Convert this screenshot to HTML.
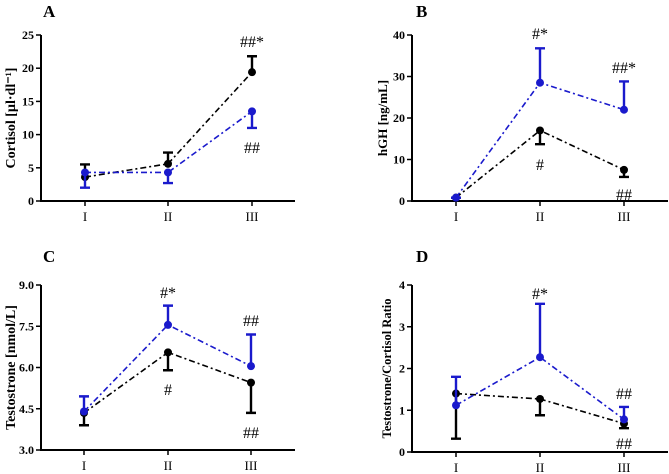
<!DOCTYPE html>
<html><head><meta charset="utf-8"><style>
body{margin:0;background:#fff;}
svg{display:block;font-family:"Liberation Serif",serif;}
</style></head><body>
<svg id="chart" width="669" height="474" viewBox="0 0 669 474" xmlns="http://www.w3.org/2000/svg"></svg>
<script>
const categories=["I","II","III"];
const aBlack=[3.6,5.6,19.4], aBlackErr=[5.5,7.3,21.8];
const aBlue=[4.3,4.3,13.5], aBlueErr=[2.0,2.7,11.0];
const bBlack=[0.8,17,7.5], bBlackErr=[0.8,13.7,5.8];
const bBlue=[0.8,28.5,22], bBlueErr=[0.8,36.8,28.8];
const cBlack=[4.35,6.55,5.45], cBlackErr=[3.9,5.9,4.35];
const cBlue=[4.4,7.55,6.05], cBlueErr=[4.95,8.25,7.2];
const dBlack=[1.4,1.27,0.68], dBlackErr=[0.32,0.88,0.57];
const dBlue=[1.12,2.27,0.78], dBlueErr=[1.8,3.55,1.08];
const aTicks=[0,5,10,15,20,25], bTicks=[0,10,20,30,40], cTicks=[3.0,4.5,6.0,7.5,9.0], dTicks=[0,1,2,3,4];

const NS="http://www.w3.org/2000/svg";
const svg=document.getElementById('chart');
function el(tag,attrs,parent,text){const e=document.createElementNS(NS,tag);for(const k in attrs)e.setAttribute(k,attrs[k]);if(text!==undefined)e.textContent=text;(parent||svg).appendChild(e);return e;}

function panel(cfg){
  const g=el('g',{});
  
  
  const ymin=cfg.ticks[0], ymax=cfg.ticks[cfg.ticks.length-1];
  const y=v=>cfg.y0+(v-ymin)/(ymax-ymin)*(cfg.y1-cfg.y0);
  const x=i=>cfg.cx[i];
  const t=el('text',{x:cfg.lx,y:cfg.ly,'font-size':17,'font-weight':'bold'},g,cfg.letter);
  
  
  const ax=el('path',{d:`M${cfg.ax},${y(ymax)} V${cfg.y0} H${cfg.axEnd}`,stroke:'#000','stroke-width':2,fill:'none'},g);
  
  
  cfg.ticks.forEach(v=>{
    el('line',{x1:cfg.ax-5,x2:cfg.ax,y1:y(v),y2:y(v),stroke:'#000','stroke-width':1.5},g);
    const tl=el('text',{x:cfg.ax-7,y:y(v)+4,'font-size':12,'font-weight':'bold','text-anchor':'end'},g,cfg.fmt(v));
    
    
  });
  categories.forEach((c,i)=>{
    el('line',{x1:x(i),x2:x(i),y1:cfg.y0,y2:cfg.y0+5,stroke:'#000','stroke-width':1.5},g);
    const xl=el('text',{x:x(i),y:cfg.y0+20,'font-size':13,'text-anchor':'middle'},g,c);
    
    
  });
  const yt=el('text',{transform:`translate(${cfg.ytx},${(cfg.y0+y(ymax))/2}) rotate(-90)`,'font-size':cfg.yfs,'font-weight':'bold','text-anchor':'middle'},g,cfg.ytitle);
  
  
  [['black',cfg.black,cfg.blackErr,'#000'],['blue',cfg.blue,cfg.blueErr,'#1a1acc']].forEach(([n,vals,errs,col])=>{
    const pts=vals.map((v,i)=>x(i)+','+y(v)).join(' ');
    const pl=el('polyline',{points:pts,fill:'none',stroke:col,'stroke-width':1.6,'stroke-dasharray':'6,3,2,3'},g);
    
    
    vals.forEach((v,i)=>{
      const e=el('path',{d:`M${x(i)},${y(v)} V${y(errs[i])} M${x(i)-5},${y(errs[i])} H${x(i)+5}`,stroke:col,'stroke-width':2.4,fill:'none'},g);
      
      
      const p=el('circle',{cx:x(i),cy:y(v),r:4,fill:col},g);
      
      
    });
  });
  cfg.ann.forEach(a=>{
    const at=el('text',{x:x(a[0]),y:a[1],'font-size':16,'text-anchor':'middle'},g,a[2]);
    
    
  });
}
panel({letter:'A',lx:43,ly:17,ax:41,axEnd:295,y0:201,y1:35,cx:[85,168,252],ticks:aTicks,fmt:v=>String(v),ytx:15,yfs:14,ytitle:'Cortisol  [µl·dl⁻¹]',
  black:aBlack,blackErr:aBlackErr,blue:aBlue,blueErr:aBlueErr,ann:[[2,47,'##*'],[2,153,'##']]});
panel({letter:'B',lx:416,ly:17,ax:412,axEnd:668,y0:201,y1:35,cx:[456,540,624],ticks:bTicks,fmt:v=>String(v),ytx:387,yfs:13,ytitle:'hGH [ng/mL]',
  black:bBlack,blackErr:bBlackErr,blue:bBlue,blueErr:bBlueErr,ann:[[1,39,'#*'],[2,73,'##*'],[1,170,'#'],[2,200,'##']]});
panel({letter:'C',lx:43,ly:262,ax:41,axEnd:295,y0:450,y1:285,cx:[84,168,251],ticks:cTicks,fmt:v=>v.toFixed(1),ytx:15,yfs:14,ytitle:'Testostrone [nmol/L]',
  black:cBlack,blackErr:cBlackErr,blue:cBlue,blueErr:cBlueErr,ann:[[1,298,'#*'],[2,326,'##'],[1,395,'#'],[2,438,'##']]});
panel({letter:'D',lx:416,ly:262,ax:412,axEnd:668,y0:452,y1:285,cx:[456,540,624],ticks:dTicks,fmt:v=>String(v),ytx:391,yfs:12.5,ytitle:'Testostrone/Cortisol Ratio',
  black:dBlack,blackErr:dBlackErr,blue:dBlue,blueErr:dBlueErr,ann:[[1,299,'#*'],[2,399,'##'],[2,449,'##']]});
</script>
</body></html>
